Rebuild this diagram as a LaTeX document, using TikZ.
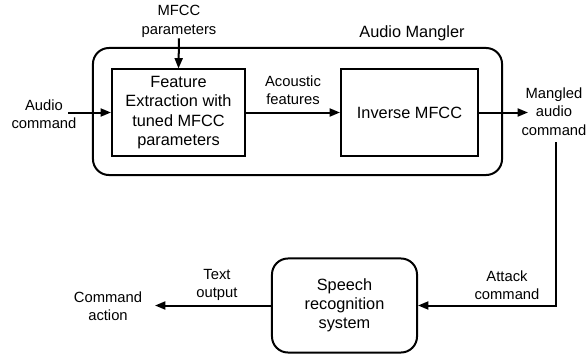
\documentclass[tikz,border=0pt]{standalone}
\usepackage{fontspec}
\setmainfont{Liberation Sans}
\usetikzlibrary{arrows.meta}

\begin{document}
\begin{tikzpicture}[x=0.025cm,y=-0.025cm,line width=0.05cm,
	font=\fontsize{11.6}{13.7}\selectfont,
	box/.style={draw,minimum height=2.15cm,align=center,inner sep=0},
	lbl/.style={align=center,inner sep=0,font=\fontsize{10.5}{13.1}\selectfont},
	arr/.style={-{Triangle[length=0.26cm,width=0.2cm]}}]
	
	\useasboundingbox (0,0) rectangle (587,356);
	
	\node[draw,rounded corners=0.4cm,minimum width=10.225cm,minimum height=3.175cm] (mangler) at (297.5,111.5) {};
	\node[inner sep=0] (title) at (412,33) {Audio Mangler};
	
	\node[box,minimum width=3.325cm] (feat) at (178.5,112.5) {Feature\\Extraction with\\tuned MFCC\\parameters};
	\node[box,minimum width=3.425cm] (inv) at (409.5,112.5) {Inverse MFCC};
	
	\node[lbl] (mfcc) at (179,21.5) {MFCC\\parameters};
	\node[lbl] (audio) at (44,114) {Audio\\command};
	\coordinate (ain) at (68,112.5);
	\node[lbl] (acoustic) at (293,90.5) {Acoustic\\features};
	\node[lbl] (mangled) at (554,111.5) {Mangled\\audio\\command};
	\coordinate (mout) at (528,112.5);
	
	\node[box,rounded corners=0.4cm,minimum width=3.625cm,minimum height=2.35cm] (speech) at (344.5,305.5) {Speech\\recognition\\system};
	\node[lbl] (attack) at (507,285) {Attack\\command};
	\node[lbl] (textout) at (217,285) {Text\\output};
	\node[lbl] (action) at (108,306) {Command\\action};
	\coordinate (aout) at (155,305.5);
	
	\draw[arr] (mfcc.south) -- (feat.north);
	\draw[arr] (ain) -- (feat.west);
	\draw[arr] (feat.east) -- (inv.west);
	\draw[arr] (inv.east) -- (mout);
	\draw[arr] ([yshift=-0.15cm]mangled.south -| 556,0) |- (speech.east);
	\draw[arr] (speech.west) -- (aout);
	
\end{tikzpicture}
\end{document}
